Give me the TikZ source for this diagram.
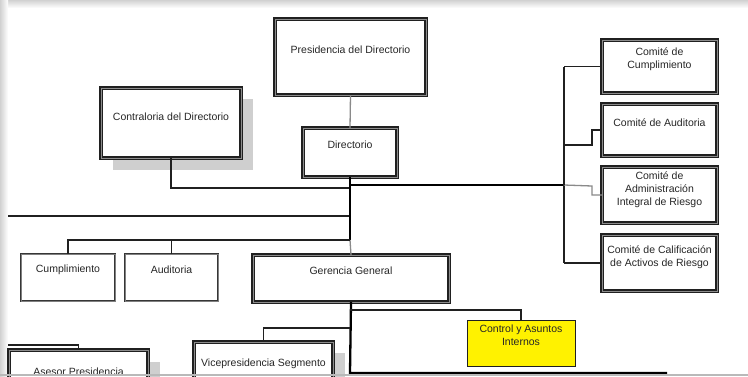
\documentclass[tikz,border=0pt]{standalone}
\usepackage{fontspec}
\setmainfont{Liberation Sans}
\usetikzlibrary{calc}
\definecolor{edge}{HTML}{202020}
\definecolor{pale}{HTML}{8A8A8A}
\definecolor{shade}{HTML}{CFCFCF}
\begin{document}
\begin{tikzpicture}[x=1pt,y=-1pt,
  every node/.style={inner sep=0pt, outer sep=0pt},
  unit/.style={draw=edge, line width=1.15pt, double=black!45, double distance=0.9pt, fill=white},
  plain/.style={draw=edge!90, line width=1pt, double=black!50, double distance=0.5pt, fill=white},
  marked/.style={draw=edge, line width=0.9pt, fill=yellow},
  shadowbox/.style={fill=shade, draw=none},
  caption/.style={font=\fontsize{10.5}{12.8}\selectfont, text=black!85, align=center},
  link/.style={draw=edge, line width=1.1pt},
  faint/.style={draw=pale, line width=1.3pt},
  trunk/.style={draw=black, line width=2.3pt},
]
\useasboundingbox (0,0) rectangle (748,376);
\clip (0,0) rectangle (748,376);
\fill[white] (0,0) rectangle (748,376);
% window edge
\shade[top color=black!18, bottom color=white] (0,0) rectangle (748,8);
\shade[left color=black!18, right color=white] (0,0) rectangle (8,376);
\fill[white] (8,8) rectangle (748,376);

% shadows
\fill[shadowbox] (113,99) rectangle (253,170);
\fill[shadowbox] (333,353) rectangle (345,400);
\fill[shadowbox] (148,362) rectangle (160,400);

% boxes
\node[unit, minimum width=151pt, minimum height=76pt] (pres) at (350.5,57) {};
\node[unit, minimum width=94pt, minimum height=49pt] (dir) at (350,152.5) {};
\node[unit, minimum width=140pt, minimum height=70pt] (contr) at (171,123) {};
\node[plain, minimum width=94pt, minimum height=47pt] (cumpl) at (68,277.5) {};
\node[plain, minimum width=93pt, minimum height=47pt] (audit) at (171.5,277.5) {};
\node[unit, minimum width=196pt, minimum height=47pt] (ger) at (351,278.5) {};
\node[marked, minimum width=108pt, minimum height=46pt] (ctrl) at (521,343) {};
\node[unit, minimum width=139pt, minimum height=80pt] (vice) at (263.5,382) {};
\node[unit, minimum width=139pt, minimum height=80pt] (asesor) at (78.5,390) {};
\node[unit, minimum width=115pt, minimum height=53pt] (c1) at (659.5,66.5) {};
\node[unit, minimum width=115pt, minimum height=52pt] (c2) at (659.5,130) {};
\node[unit, minimum width=115pt, minimum height=56pt] (c3) at (659.5,195) {};
\node[unit, minimum width=115pt, minimum height=56pt] (c4) at (659.5,263) {};

% texts
\node[caption] (pres-t) at (350.5,50) {Presidencia del Directorio};
\node[caption] (dir-t) at (350,145) {Directorio};
\node[caption] (contr-t) at (171,117) {Contraloria del Directorio};
\node[caption] (cumpl-t) at (68,270) {Cumplimiento};
\node[caption] (audit-t) at (171.5,270) {Auditoria};
\node[caption] (ger-t) at (351,271) {Gerencia General};
\node[caption] (ctrl-t) at (521,335.5) {Control y Asuntos\\Internos};
\node[caption] (vice-t) at (263.5,364) {Vicepresidencia Segmento};
\node[caption] (asesor-t) at (78.5,371.5) {Asesor Presidencia};
\node[caption] (c1-t) at (659.5,59) {Comité de\\Cumplimiento};
\node[caption] (c2-t) at (659.5,123) {Comité de Auditoria};
\node[caption] (c3-t) at (659.5,190) {Comité de\\Administración\\Integral de Riesgo};
\node[caption] (c4-t) at (659.5,257) {Comité de Calificación\\de Activos de Riesgo};

% junctions
\coordinate (jc) at (350,188);
\coordinate (jr) at (350,185);
\coordinate (jl) at (350,240);
\coordinate (jw) at (350,216);
\coordinate (wend) at (8,216);
\coordinate (spine) at (564,185);
\coordinate (stop) at (564,66.5);
\coordinate (sbot) at (564,263);
\coordinate (jg) at (350,373);
\coordinate (gend) at (667,373);
\coordinate (jctrl) at (350,310);
\coordinate (jvice) at (350,328);
\coordinate (aend) at (8,345);

% board level
\draw[faint] (pres.south) -- (dir.north);
\draw[link] (contr.south) |- (jc);
\draw[link] (wend) -- (jw);
\draw[trunk] (dir.south) -- (jl);
\draw[faint] (jl) -- (ger.north);
\draw[trunk, line width=2pt] (jr) -- (spine);

% committees
\draw[link] (stop) -- (sbot);
\draw[link] (stop) -- (c1.west);
\draw[link] (564,145) -- (592,145) -- (592,130) -- (c2.west);
\draw[faint] (spine) -- (592,186) -- (592,195) -- (c3.west);
\draw[link] (sbot) -- (c4.west);
\draw[link, line width=1.8pt] (564,145) -- (spine);

% staff units
\draw[link, line width=1.5pt] (jl) -| (audit.north);
\draw[link] (audit.north |- jl) -| (cumpl.north);

% management level
\draw[trunk] (ger.south) -- (jg) -- (gend);
\draw[link] (jctrl) -| (ctrl.north);
\draw[link] (jvice) -| (vice.north);
\draw[link] (aend) -| (asesor.north);

% bottom window edge
\draw[pale!60, line width=1.2pt] (0,375) -- (748,375);
\end{tikzpicture}
\end{document}
